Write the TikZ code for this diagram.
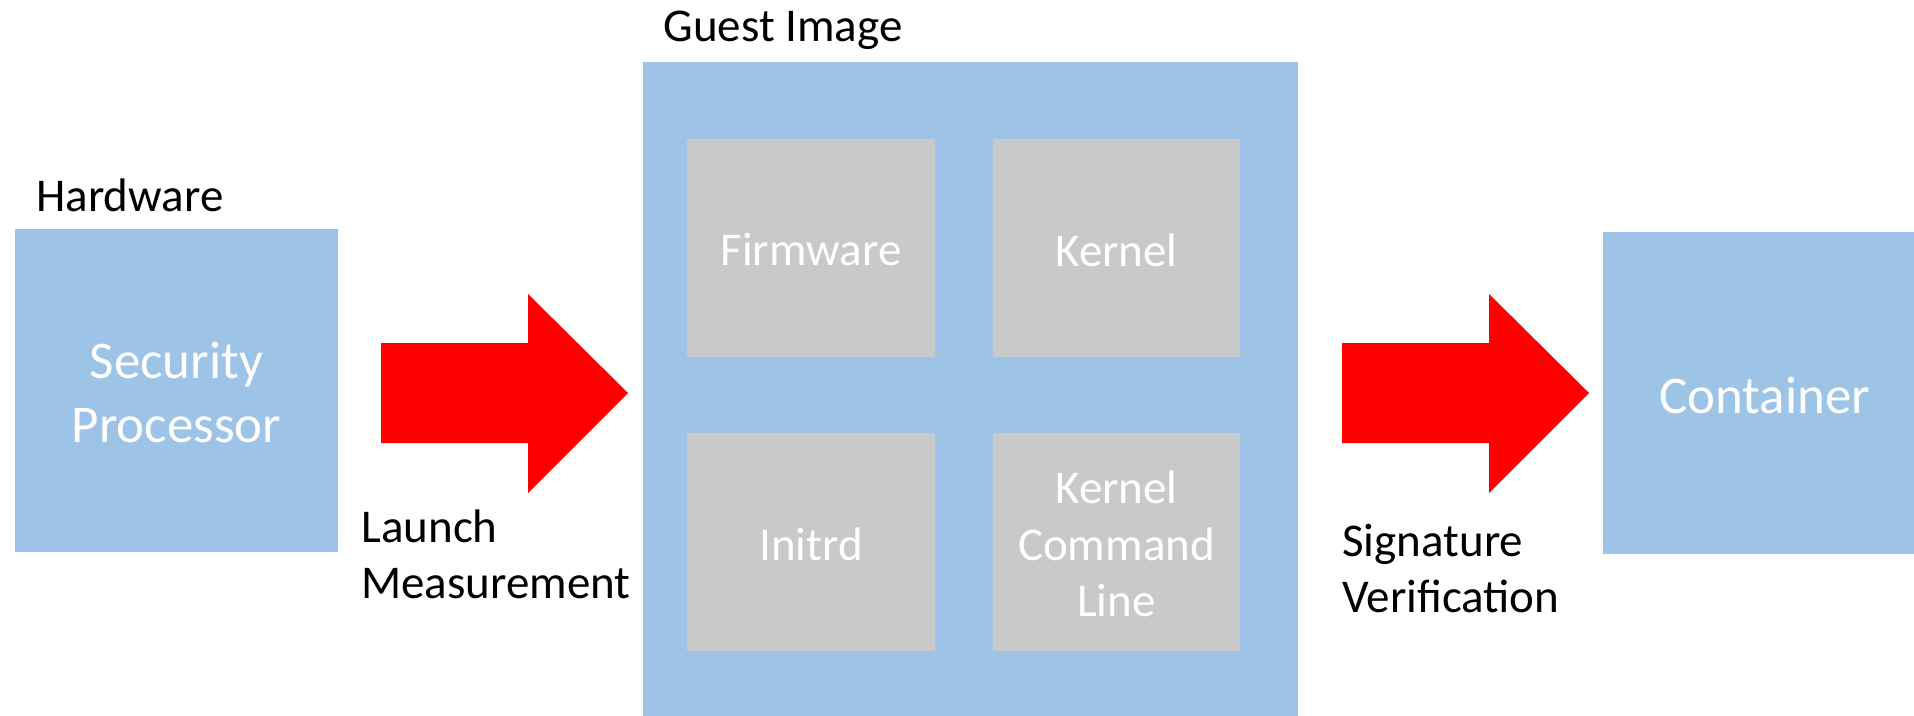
\documentclass[tikz,border=0pt]{standalone}
\usepackage{fontspec}
\setmainfont{Carlito}
\definecolor{boxblue}{HTML}{9DC3E6}
\definecolor{boxgray}{HTML}{C9C9C9}
\definecolor{arrowred}{HTML}{FF0000}
\tikzset{
  bluebox/.style={fill=boxblue, draw=none},
  graybox/.style={fill=boxgray, draw=none},
  bigarrow/.style={fill=arrowred, draw=none},
  whitebig/.style={text=white, align=center, font=\fontsize{26.5}{32}\selectfont, inner sep=0pt},
  whitesmall/.style={text=white, align=center, font=\fontsize{23.5}{28.25}\selectfont, inner sep=0pt},
  label/.style={text=black, anchor=base west, inner sep=0pt, font=\fontsize{23.5}{28.25}\selectfont},
}
\begin{document}
\begin{tikzpicture}[x=0.5pt, y=-0.5pt]
\useasboundingbox (0,0) rectangle (1914,716);
\clip (0,0) rectangle (1914,716);
% Hardware
\fill[bluebox] (15,229) rectangle (338,552);
\node[whitebig] (sp) at (176.5,392) {Security\\Processor};
\node[label] (hw) at (36,212) {Hardware};
% Guest image
\fill[bluebox] (643,62) rectangle (1298,740);
\node[label] (gi) at (663,42) {Guest Image};
\fill[graybox] (687,139) rectangle (935,357);
\fill[graybox] (993,139) rectangle (1240,357);
\fill[graybox] (687,433) rectangle (935,651);
\fill[graybox] (993,433) rectangle (1240,651);
\node[whitesmall] (fw) at (811,250) {Firmware};
\node[whitesmall] (kn) at (1116.5,250) {Kernel};
\node[whitesmall] (ird) at (811,544) {Initrd};
\node[whitesmall] (kcl) at (1116.5,544) {Kernel\\Command\\Line};
% Container
\fill[bluebox] (1603,232) rectangle (1926,554);
\node[whitebig] (ct) at (1764.5,395) {Container};
% Arrows
\fill[bigarrow] (381,343) -- (528,343) -- (528,294) -- (628,393) -- (528,493) -- (528,443) -- (381,443) -- cycle;
\fill[bigarrow] (1342,343) -- (1489,343) -- (1489,294) -- (1589,393) -- (1489,493) -- (1489,443) -- (1342,443) -- cycle;
\node[label] (lm) at (361,542) {\begin{tabular}[t]{@{}l@{}}Launch\\Measurement\end{tabular}};
\node[label] (sv) at (1342,556) {\begin{tabular}[t]{@{}l@{}}Signature\\Verification\end{tabular}};
\end{tikzpicture}
\end{document}
